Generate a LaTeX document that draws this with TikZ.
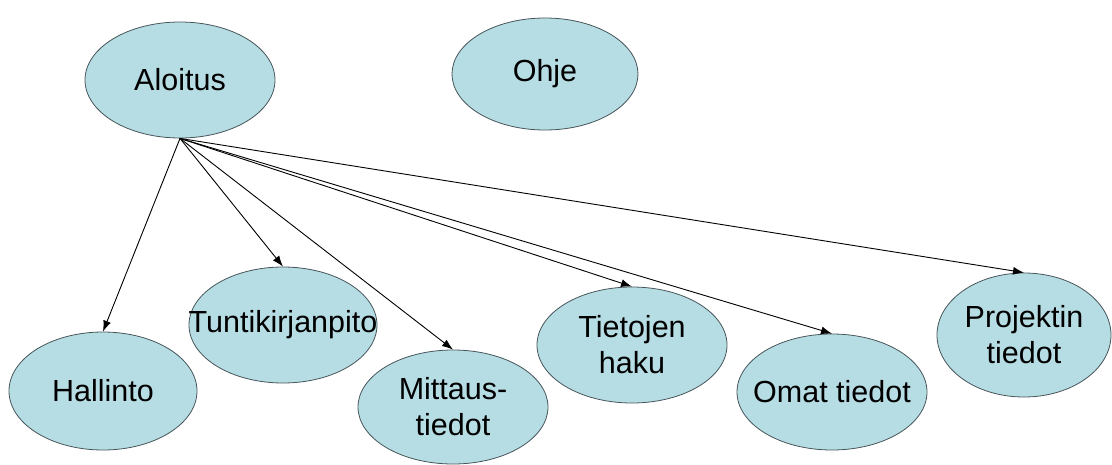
\documentclass[tikz,border=0pt]{standalone}
\usepackage{fontspec}
\setmainfont{Liberation Sans}
\usetikzlibrary{shapes.geometric,arrows.meta}
\definecolor{ovalfill}{RGB}{183,221,228}
\definecolor{ovalline}{RGB}{70,85,90}
\begin{document}
\begin{tikzpicture}[x=1pt, y=-1pt, line cap=round, line join=round,
    font=\fontsize{30.5}{36}\selectfont,
    oval/.style={ellipse, draw=ovalline, fill=ovalfill, line width=0.8pt, inner sep=0pt,
      minimum width=190pt, minimum height=116pt},
    every label/.style={align=center, inner sep=0pt},
    link/.style={line width=0.9pt, -{Latex[length=11pt, width=8pt]}}]
  \useasboundingbox (0,0) rectangle (1112,464);
  % top row
  \node[oval, label=center:Aloitus] (aloitus) at (180,80) {};
  \node[oval, minimum width=186pt, minimum height=112pt, label=center:Ohje] (ohje) at (545,74) {};
  % pages under the start page
  \node[oval, minimum width=188pt, minimum height=118pt, label=center:Hallinto] (hallinto) at (103,391) {};
  \node[oval, minimum width=188pt, label=center:Tuntikirjanpito] (tunti) at (283,325) {};
  \node[oval, minimum height=114pt, label={center:Mittaus-\\tiedot}] (mittaus) at (453,407) {};
  \node[oval, label={center:Tietojen\\haku}] (haku) at (632,345) {};
  \node[oval, label=center:Omat tiedot] (omat) at (832,392) {};
  \node[oval, minimum width=174pt, minimum height=124pt, label={center:Projektin\\tiedot}] (projekti) at (1024,335) {};
  % links
  \foreach \n in {hallinto, tunti, mittaus, haku, omat, projekti}
    \draw[link] (aloitus.south) -- (\n.north);
\end{tikzpicture}
\end{document}
